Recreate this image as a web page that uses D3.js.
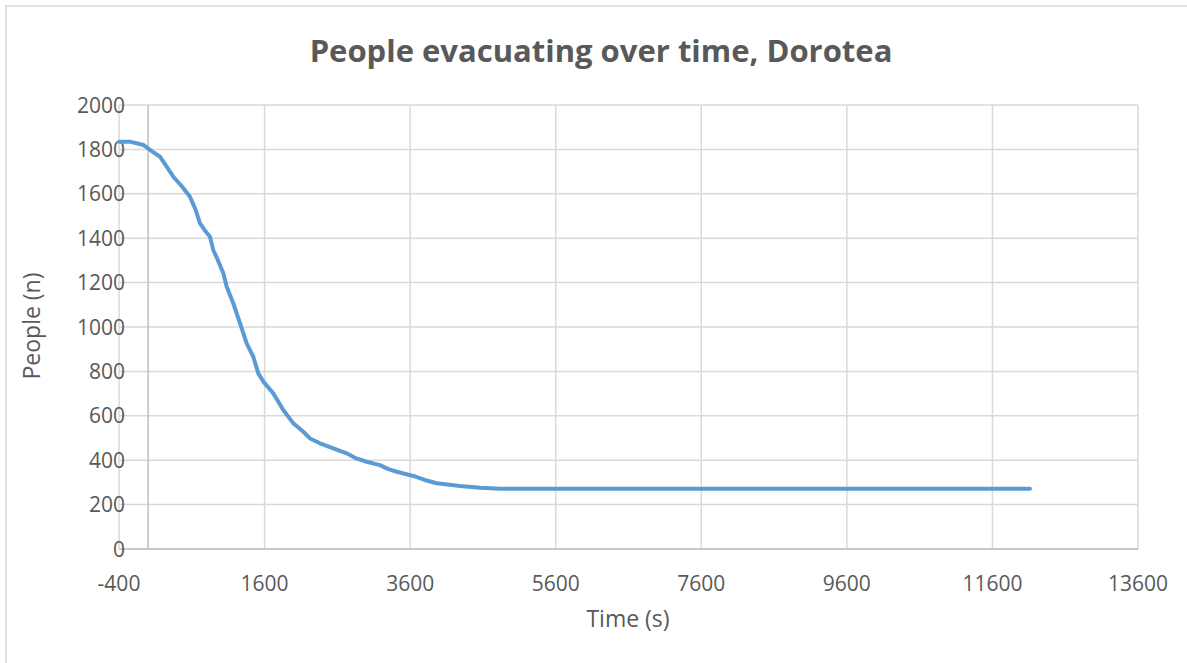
<!DOCTYPE html>
<html>
<head>
<meta charset="utf-8">
<script src="https://cdn.jsdelivr.net/npm/d3@7"></script>
<style>
  html, body { margin: 0; padding: 0; background: #fff; }
  svg { display: block; }
  text { font-family: "Open Sans", "Liberation Sans", sans-serif; fill: #595959; }
</style>
</head>
<body>
<svg id="chart" width="1187" height="663"></svg>
<script>
// Evacuation record: time in seconds, people still inside
const timeSec = [-400, -250, -66, 60, 163, 250, 346, 460, 575, 650, 713, 780, 850, 895, 960, 1033,
  1080, 1170, 1262, 1354, 1445, 1514, 1583, 1720, 1857, 1995, 2132, 2224, 2361, 2544,
  2728, 2860, 3003, 3186, 3300, 3415, 3645, 3800, 3965, 4285, 4560, 4834,
  6000, 8000, 10000, 12116];
const people = [1835, 1835, 1820, 1790, 1767, 1725, 1677, 1635, 1587, 1530, 1467, 1435, 1407, 1347, 1300, 1242,
  1181, 1107, 1017, 926, 866, 791, 754, 701, 626, 566, 528, 498, 476, 453,
  431, 408, 393, 378, 360, 348, 329, 311, 296, 284, 276, 271,
  271, 271, 271, 271];

const xTicks = [-400, 1600, 3600, 5600, 7600, 9600, 11600, 13600];
const yTicks = [0, 200, 400, 600, 800, 1000, 1200, 1400, 1600, 1800, 2000];

const svg = d3.select("#chart");
const plot = { left: 119, right: 1138, top: 105, bottom: 549 };

const x = d3.scaleLinear().domain([-400, 13600]).range([plot.left, plot.right]);
const y = d3.scaleLinear().domain([0, 2000]).range([plot.bottom, plot.top]);

// outer chart frame
svg.append("rect")
  .attr("x", 6).attr("y", 6).attr("width", 1200).attr("height", 680)
  .attr("fill", "none").attr("stroke", "#d9d9d9").attr("stroke-width", 1.5);

// horizontal gridlines
svg.append("g").selectAll("line").data(yTicks).join("line")
  .attr("x1", plot.left).attr("x2", plot.right)
  .attr("y1", d => y(d)).attr("y2", d => y(d))
  .attr("stroke", "#d9d9d9").attr("stroke-width", 1.5);

// vertical gridlines
svg.append("g").selectAll("line").data(xTicks).join("line")
  .attr("x1", d => x(d)).attr("x2", d => x(d))
  .attr("y1", plot.top).attr("y2", plot.bottom)
  .attr("stroke", "#d9d9d9").attr("stroke-width", 1.5);

// value axis crossing at time zero
svg.append("line")
  .attr("x1", x(0)).attr("x2", x(0))
  .attr("y1", plot.top).attr("y2", plot.bottom)
  .attr("stroke", "#bfbfbf").attr("stroke-width", 1.5);

// horizontal axis line
svg.append("line")
  .attr("x1", plot.left).attr("x2", plot.right)
  .attr("y1", y(0)).attr("y2", y(0))
  .attr("stroke", "#bfbfbf").attr("stroke-width", 1.5);

// y tick labels
svg.append("g").selectAll("text").data(yTicks).join("text")
  .attr("x", 125).attr("y", d => y(d) + 7.5)
  .attr("text-anchor", "end")
  .attr("font-size", 21)
  .text(d => d);

// x tick labels
svg.append("g").selectAll("text").data(xTicks).join("text")
  .attr("x", d => x(d)).attr("y", 591)
  .attr("text-anchor", "middle")
  .attr("font-size", 21)
  .text(d => d);

// series line
const line = d3.line().x((d, i) => x(timeSec[i])).y(d => y(d));
svg.append("path")
  .datum(people)
  .attr("d", line)
  .attr("fill", "none")
  .attr("stroke", "#5b9bd5")
  .attr("stroke-width", 4)
  .attr("stroke-linejoin", "round")
  .attr("stroke-linecap", "round");

// title
svg.append("text")
  .attr("x", 601).attr("y", 62)
  .attr("text-anchor", "middle")
  .attr("font-size", 31).attr("font-weight", "bold")
  .text("People evacuating over time, Dorotea");

// axis titles
svg.append("text")
  .attr("x", 628).attr("y", 627)
  .attr("text-anchor", "middle")
  .attr("font-size", 23)
  .text("Time (s)");

svg.append("text")
  .attr("transform", "translate(40,326) rotate(-90)")
  .attr("text-anchor", "middle")
  .attr("font-size", 23)
  .text("People (n)");
</script>
</body>
</html>
